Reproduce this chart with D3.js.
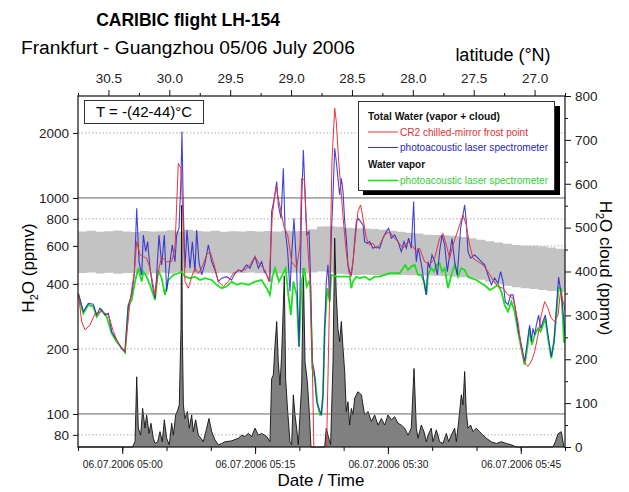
<!DOCTYPE html>
<html>
<head>
<meta charset="utf-8">
<script src="https://cdn.jsdelivr.net/npm/d3@7"></script>
<style>
body { margin: 0; background: #fff; }
text { font-family: "Liberation Sans", Arial, sans-serif; }
</style>
</head>
<body>
<svg id="chart" width="629" height="492"></svg>
<script>
// ---- data (time = minutes after 04:55 UTC) ----
var leftTicks = [80, 100, 200, 400, 600, 800, 1000, 2000];
var leftSolid = [100, 1000];
var rightTicks = [0, 100, 200, 300, 400, 500, 600, 700, 800];
var rightMinor = [50, 150, 250, 350, 450, 550, 650, 750];
var latTicks = [30.5, 30.0, 29.5, 29.0, 28.5, 28.0, 27.5, 27.0];
var latMinor = [30.75, 30.25, 29.75, 29.25, 28.75, 28.25, 27.75, 27.25, 26.75];
var timeMajor = [5, 20, 35, 50];
var timeMinor = [0, 5, 10, 15, 20, 25, 30, 35, 40, 45, 50, 55];

var cr2Total = [[0.04,362],[0.41,268],[0.79,245],[1.36,258],[1.92,292],[2.67,298],[3.43,287],[3.99,241],[4.55,212],[5.31,194],[5.87,331],[6.36,456],[6.63,628],[7.00,545],[7.38,535],[7.75,526],[8.13,473],[8.70,356],[9.07,456],[9.45,535],[10.01,507],[10.58,507],[10.95,585],[11.33,1447],[11.63,1372],[11.90,724],[12.08,410],[12.46,382],[12.84,432],[13.21,473],[13.59,448],[13.97,473],[14.53,545],[14.91,564],[15.28,507],[15.85,410],[16.41,389],[16.98,410],[17.54,448],[18.11,460],[18.86,464],[19.42,490],[19.99,535],[20.55,490],[21.12,464],[21.57,410],[21.95,834],[22.36,1128],[22.70,962],[23.00,834],[23.30,724],[23.68,674],[24.13,507],[24.69,473],[25.07,606],[25.26,1234],[25.56,1212],[25.82,724],[26.20,410],[26.46,175],[26.70,50],[27.90,50],[28.04,60],[28.42,356],[28.68,1474],[28.99,2602],[29.17,2256],[29.44,1474],[29.74,1032],[30.04,724],[30.30,564],[30.57,456],[30.79,432],[31.06,507],[31.32,651],[31.62,865],[31.92,928],[32.19,805],[32.56,651],[32.94,606],[33.31,617],[33.69,585],[34.07,606],[34.63,674],[35.20,699],[35.57,662],[36.14,628],[36.70,585],[37.27,628],[37.83,595],[38.21,564],[38.58,585],[39.15,507],[39.71,490],[40.28,526],[40.84,651],[41.22,686],[41.60,606],[41.97,526],[42.35,606],[42.73,674],[43.10,750],[43.48,834],[43.85,750],[44.23,606],[44.61,526],[45.17,507],[45.74,490],[46.30,456],[46.87,417],[47.43,389],[48.00,382],[48.56,356],[49.13,343],[49.69,268],[50.07,201],[50.44,172],[50.82,166],[51.20,175],[51.57,194],[51.95,232],[52.32,287],[52.70,331],[53.08,309],[53.45,277],[53.83,268],[54.21,287],[54.50,370],[54.80,330],[55.00,300]];

var paTotal = [[0.04,362],[0.60,298],[1.17,325],[1.73,322],[2.11,287],[2.48,309],[3.05,287],[3.43,292],[3.80,241],[4.37,220],[4.93,201],[5.31,194],[5.68,320],[6.06,356],[6.36,440],[6.63,896],[6.89,507],[7.19,440],[7.38,674],[7.64,564],[7.87,628],[8.13,473],[8.39,396],[8.70,343],[8.88,440],[9.15,674],[9.45,490],[9.75,674],[10.01,369],[10.39,507],[10.65,606],[10.95,507],[11.14,674],[11.41,724],[11.63,1234],[11.74,2029],[11.90,865],[12.08,473],[12.31,711],[12.65,473],[12.91,628],[13.21,456],[13.40,711],[13.66,507],[13.97,440],[14.34,498],[14.72,606],[15.10,507],[15.47,464],[15.85,410],[16.22,425],[16.79,432],[17.35,417],[17.73,448],[18.11,464],[18.48,456],[19.05,490],[19.42,473],[19.99,535],[20.37,473],[20.74,507],[21.04,456],[21.31,440],[21.68,410],[21.87,865],[22.17,997],[22.44,1191],[22.62,928],[22.93,805],[23.19,1372],[23.38,724],[23.68,564],[23.94,369],[24.13,545],[24.39,805],[24.69,473],[24.96,205],[25.26,962],[25.45,1668],[25.64,1070],[25.82,674],[26.09,699],[26.24,456],[26.46,175],[26.69,157],[26.95,114],[27.33,103],[27.48,99],[27.67,122],[27.86,249],[28.04,410],[28.23,490],[28.42,331],[28.61,674],[28.80,1032],[28.99,1698],[29.17,1474],[29.36,1234],[29.55,1032],[29.74,1234],[29.93,1070],[30.12,777],[30.30,651],[30.49,490],[30.68,456],[30.87,440],[31.06,507],[31.24,628],[31.43,777],[31.62,805],[31.92,777],[32.19,750],[32.37,628],[32.67,617],[32.94,628],[33.31,585],[33.69,595],[34.07,585],[34.44,651],[34.82,699],[35.08,724],[35.39,651],[35.76,674],[36.14,628],[36.51,564],[36.82,628],[37.08,585],[37.34,651],[37.64,585],[37.91,962],[38.02,674],[38.21,507],[38.40,585],[38.58,545],[38.85,473],[39.07,410],[39.34,356],[39.53,507],[39.71,473],[39.98,545],[40.28,507],[40.58,440],[40.84,564],[41.11,674],[41.41,606],[41.71,456],[41.97,545],[42.24,651],[42.54,507],[42.84,440],[43.21,724],[43.48,834],[43.67,928],[43.85,777],[44.04,564],[44.34,526],[44.80,545],[45.17,526],[45.55,507],[45.93,490],[46.30,440],[46.68,396],[47.06,425],[47.43,403],[47.73,456],[48.00,410],[48.26,331],[48.56,320],[48.86,356],[49.13,356],[49.39,309],[49.69,249],[50.07,209],[50.44,175],[50.74,216],[51.01,258],[51.20,216],[51.38,249],[51.57,232],[51.76,258],[52.02,287],[52.25,249],[52.51,268],[52.78,287],[53.08,232],[53.45,184],[53.76,216],[54.02,309],[54.28,430],[54.58,356],[54.88,268],[55.00,230]];

var paVapor = [[0.04,356],[0.60,292],[1.17,320],[1.73,314],[2.11,282],[2.67,303],[3.24,282],[3.80,236],[4.37,216],[5.31,193],[5.68,314],[6.06,337],[6.44,410],[6.81,473],[7.19,410],[7.38,456],[7.75,432],[8.13,396],[8.70,337],[9.07,464],[9.45,425],[9.82,356],[10.20,417],[10.77,440],[11.33,448],[11.71,456],[12.08,432],[12.65,425],[13.21,432],[13.78,417],[14.34,425],[15.10,417],[15.66,396],[16.22,382],[16.79,389],[17.35,410],[17.92,396],[18.48,403],[19.24,396],[19.99,410],[20.74,417],[21.31,382],[21.68,356],[21.95,432],[22.25,473],[22.70,410],[23.08,440],[23.45,473],[23.75,356],[24.05,287],[24.32,410],[24.69,356],[24.96,205],[25.26,410],[25.56,473],[25.82,389],[26.09,410],[26.24,396],[26.46,163],[26.76,146],[27.07,110],[27.33,99],[27.48,99],[27.67,122],[27.86,249],[28.16,382],[28.42,331],[28.61,440],[29.17,432],[29.93,432],[30.68,432],[30.87,382],[31.06,410],[31.43,432],[31.81,425],[32.37,432],[32.94,417],[33.50,432],[34.07,432],[34.63,440],[35.20,448],[35.76,448],[36.33,448],[36.70,473],[36.97,490],[37.27,464],[37.64,481],[38.02,490],[38.40,440],[38.77,440],[39.07,410],[39.34,356],[39.53,440],[39.90,473],[40.20,456],[40.47,490],[40.84,498],[41.11,456],[41.41,473],[41.79,382],[42.16,440],[42.54,490],[42.91,432],[43.29,473],[43.67,464],[44.04,432],[44.42,425],[44.98,417],[45.55,403],[46.11,389],[46.49,375],[46.87,382],[47.43,396],[47.81,369],[48.18,320],[48.56,298],[48.94,331],[49.31,298],[49.69,241],[50.07,201],[50.44,169],[50.74,201],[51.01,249],[51.27,209],[51.57,232],[51.95,249],[52.25,241],[52.51,258],[52.78,277],[53.08,225],[53.45,181],[53.76,216],[54.02,287],[54.28,385],[54.58,380],[54.88,216],[55.00,215]];

var cloudWater = [[0,0],[6.20,0],[6.25,5],[6.44,12],[6.63,160],[6.81,43],[7.08,27],[7.30,88],[7.57,43],[7.75,73],[8.02,31],[8.24,54],[8.51,20],[8.70,8],[9.00,12],[9.26,35],[9.52,12],[9.75,62],[10.01,20],[10.31,5],[10.58,54],[10.77,27],[11.03,73],[11.26,84],[11.44,96],[11.63,270],[11.71,551],[11.78,270],[11.90,96],[12.08,65],[12.35,81],[12.57,43],[12.84,73],[13.02,35],[13.29,62],[13.59,27],[13.89,20],[14.15,12],[14.53,43],[14.79,65],[15.10,35],[15.47,16],[15.85,5],[16.22,8],[16.60,12],[17.35,14],[18.11,20],[18.48,27],[18.86,24],[19.24,31],[19.61,24],[19.99,43],[20.37,27],[20.74,31],[21.31,24],[21.68,12],[21.87,156],[22.06,164],[22.25,232],[22.44,286],[22.62,194],[22.81,141],[23.00,210],[23.30,390],[23.45,156],[23.68,81],[23.94,12],[24.13,5],[24.32,119],[24.51,73],[24.69,43],[24.88,5],[25.07,73],[25.26,141],[25.45,407],[25.64,194],[25.90,149],[26.12,81],[26.31,0],[27.86,0],[28.04,43],[28.23,27],[28.53,5],[28.80,194],[28.99,476],[29.17,346],[29.36,270],[29.55,240],[29.74,286],[29.93,225],[30.12,172],[30.30,81],[30.49,103],[30.68,50],[30.87,88],[31.06,73],[31.24,111],[31.62,126],[32.00,119],[32.37,73],[32.75,81],[33.13,58],[33.50,73],[33.88,50],[34.26,65],[34.63,50],[35.01,73],[35.39,62],[35.76,69],[36.14,54],[36.51,50],[36.89,43],[37.27,27],[37.64,43],[37.95,179],[38.21,43],[38.40,20],[38.58,35],[38.77,50],[39.07,35],[39.34,12],[39.53,27],[39.90,43],[40.09,12],[40.47,39],[40.84,12],[41.22,8],[41.60,31],[41.86,12],[42.16,27],[42.54,43],[42.73,12],[42.99,58],[43.29,119],[43.48,96],[43.67,172],[43.85,81],[44.04,43],[44.34,50],[44.61,35],[44.98,43],[45.36,35],[45.74,27],[46.11,20],[46.68,12],[47.24,8],[47.81,12],[48.37,8],[48.94,5],[49.50,0],[53.64,0],[53.91,12],[54.21,30],[54.58,35],[54.88,0],[55,0]];

// grey band (left axis), one value per minute
var bandTimes = d3.range(0, 56);
var bandHigh = [700,705,698,702,706,700,695,704,700,702,708,700,712,703,700,705,698,702,700,704,699,703,700,706,701,704,716,737,740,735,728,724,722,718,712,705,697,690,684,676,674,672,668,660,651,640,630,622,614,606,600,600,598,590,582,572];
var bandLow = [449,452,447,450,446,449,451,440,448,450,447,452,449,446,450,448,451,447,449,452,448,450,447,449,451,448,452,457,452,446,442,440,441,440,438,441,440,439,440,438,436,434,432,429,424,418,409,400,392,386,382,379,375,371,368,360];

var base = new Date(2006, 6, 6, 4, 55, 0).getTime();
function toTime(m) { return new Date(base + m * 60000); }

var svg = d3.select("#chart");
var margin = {left: 78, top: 96};
var w = 487, h = 351;

var x = d3.scaleTime().domain([toTime(0), toTime(55)]).range([0, w]);
var xLat = d3.scaleLinear().domain([30.75, 26.75]).range([0, w]);
var yL = d3.scaleLog().domain([70.3, 2965]).range([h, 0]);
var yR = d3.scaleLinear().domain([0, 800]).range([h, 0]);

var g = svg.append("g").attr("transform", "translate(" + margin.left + "," + margin.top + ")");

svg.append("defs").append("clipPath").attr("id", "plotclip")
  .append("rect").attr("width", w).attr("height", h);

// dotted grid
g.selectAll(".grid").data(leftTicks.filter(function(d){ return leftSolid.indexOf(d) < 0; }))
  .enter().append("line")
  .attr("x1", 0).attr("x2", w)
  .attr("y1", function(d){ return yL(d); }).attr("y2", function(d){ return yL(d); })
  .attr("stroke", "#999").attr("stroke-width", 0.8).attr("stroke-dasharray", "1.5,2");

// band
var band = d3.area()
  .x(function(d, i){ return x(toTime(d)); })
  .y0(function(d, i){ return yL(bandLow[i]); })
  .y1(function(d, i){ return yL(bandHigh[i]); })
  .curve(d3.curveStepAfter);
g.append("path").datum(bandTimes).attr("d", band).attr("fill", "#c3c3c3");

// cloud water
var cloudArea = d3.area()
  .x(function(d){ return x(toTime(d[0])); })
  .y0(h)
  .y1(function(d){ return yR(d[1]); });
var cloudLine = d3.line()
  .x(function(d){ return x(toTime(d[0])); })
  .y(function(d){ return yR(d[1]); });
g.append("path").datum(cloudWater).attr("d", cloudArea).attr("fill", "#808080");
g.append("path").datum(cloudWater).attr("d", cloudLine).attr("fill", "none").attr("stroke", "#111").attr("stroke-width", 0.9);

// solid grid
g.selectAll(".solid").data(leftSolid).enter().append("line")
  .attr("x1", 0).attr("x2", w)
  .attr("y1", function(d){ return yL(d); }).attr("y2", function(d){ return yL(d); })
  .attr("stroke", "#666").attr("stroke-width", 1);

var line = d3.line()
  .x(function(d){ return x(toTime(d[0])); })
  .y(function(d){ return yL(d[1]); });
var lines = g.append("g").attr("clip-path", "url(#plotclip)");
lines.append("path").datum(paVapor).attr("d", line).attr("fill", "none").attr("stroke", "#1ee01e").attr("stroke-width", 1.8);
lines.append("path").datum(paTotal).attr("d", line).attr("fill", "none").attr("stroke", "#2222d6").attr("stroke-width", 1.1).attr("opacity", 0.85);
lines.append("path").datum(cr2Total).attr("d", line).attr("fill", "none").attr("stroke", "#e8343c").attr("stroke-width", 1);

// T box
svg.append("rect").attr("x", 84.5).attr("y", 100.5).attr("width", 119).attr("height", 23)
  .attr("fill", "#fff").attr("stroke", "#333");
svg.append("text").attr("x", 144).attr("y", 117).attr("text-anchor", "middle")
  .attr("font-size", 15).text("T = -(42-44)°C");

// legend
svg.append("rect").attr("x", 363).attr("y", 106).attr("width", 197).attr("height", 89).attr("fill", "#000");
svg.append("rect").attr("x", 358.5).attr("y", 101.5).attr("width", 196).attr("height", 89)
  .attr("fill", "#fff").attr("stroke", "#333");
var legendItems = [
  {label: "Total Water (vapor + cloud)", y: 120, bold: true, color: "#111", len: 132},
  {label: "CR2 chilled-mirror frost point", y: 135.5, color: "#e03036", line: "#e8343c", len: 128},
  {label: "photoacoustic laser spectrometer", y: 151, color: "#2424c4", line: "#3030e0", len: 148},
  {label: "Water vapor", y: 167.5, bold: true, color: "#111", len: 57},
  {label: "photoacoustic laser spectrometer", y: 184, color: "#33d033", line: "#1ee01e", len: 148}
];
legendItems.forEach(function(d){
  var tx = d.line ? 400 : 368;
  if (d.line) {
    svg.append("line").attr("x1", 368).attr("x2", 398).attr("y1", d.y - 3.5).attr("y2", d.y - 3.5)
      .attr("stroke", d.line).attr("stroke-width", d.line === "#1ee01e" ? 1.6 : 1);
  }
  svg.append("text").attr("x", tx).attr("y", d.y).attr("font-size", 11.5)
    .attr("font-weight", d.bold ? "bold" : "normal").attr("fill", d.color)
    .attr("textLength", d.len).attr("lengthAdjust", "spacingAndGlyphs").text(d.label);
});

// frame
g.append("rect").attr("x", 0).attr("y", 0).attr("width", w).attr("height", h)
  .attr("fill", "none").attr("stroke", "#111").attr("stroke-width", 1.2);

// axes
function styleAxis(sel, fs) {
  sel.select(".domain").remove();
  sel.selectAll("line").attr("stroke", "#111");
  sel.selectAll("text").attr("font-size", fs).attr("fill", "#222").attr("font-family", "'Liberation Sans', Arial, sans-serif");
}
var fmt = d3.timeFormat("%d.%m.%Y %H:%M");
g.append("g").attr("transform", "translate(0," + h + ")")
  .call(d3.axisBottom(x).tickValues(timeMinor.map(toTime)).tickSize(4).tickFormat(""))
  .call(styleAxis, 11);
g.append("g").attr("transform", "translate(0," + h + ")")
  .call(d3.axisBottom(x).tickValues(timeMajor.map(toTime)).tickSize(7).tickPadding(6).tickFormat(fmt))
  .call(styleAxis, 11.5)
  .selectAll("text").attr("textLength", 80).attr("lengthAdjust", "spacingAndGlyphs");

g.append("g")
  .call(d3.axisLeft(yL).tickValues(leftTicks).tickSize(5).tickPadding(4).tickFormat(d3.format("d")))
  .call(styleAxis, 13.5);

g.append("g").attr("transform", "translate(" + w + ",0)")
  .call(d3.axisRight(yR).tickValues(rightMinor).tickSize(3).tickFormat(""))
  .call(styleAxis, 13.5);
g.append("g").attr("transform", "translate(" + w + ",0)")
  .call(d3.axisRight(yR).tickValues(rightTicks).tickSize(6).tickPadding(4))
  .call(styleAxis, 13.5);

g.append("g")
  .call(d3.axisTop(xLat).tickValues(latMinor).tickSize(3).tickFormat(""))
  .call(styleAxis, 13.5);
g.append("g")
  .call(d3.axisTop(xLat).tickValues(latTicks).tickSize(6).tickPadding(7).tickFormat(d3.format(".1f")))
  .call(styleAxis, 13.5);

// titles
svg.append("text").attr("x", 188).attr("y", 26).attr("text-anchor", "middle")
  .attr("font-size", 17.5).attr("font-weight", "bold").text("CARIBIC flight LH-154");
svg.append("text").attr("x", 21).attr("y", 54).attr("font-size", 19.2)
  .text("Frankfurt - Guangzhou 05/06 July 2006");
svg.append("text").attr("x", 503).attr("y", 61).attr("text-anchor", "middle")
  .attr("font-size", 18).text("latitude (°N)");

svg.append("text").attr("x", 321).attr("y", 486).attr("text-anchor", "middle")
  .attr("font-size", 17).text("Date / Time");

var yl = svg.append("text").attr("transform", "translate(34,268) rotate(-90)")
  .attr("text-anchor", "middle").attr("font-size", 17);
yl.append("tspan").text("H");
yl.append("tspan").attr("font-size", 11).attr("dy", 4).text("2");
yl.append("tspan").attr("dy", -4).text("O (ppmv)");

var yr = svg.append("text").attr("transform", "translate(600,268) rotate(90)")
  .attr("text-anchor", "middle").attr("font-size", 17);
yr.append("tspan").text("H");
yr.append("tspan").attr("font-size", 11).attr("dy", 4).text("2");
yr.append("tspan").attr("dy", -4).text("O cloud (ppmv)");
</script>
</body>
</html>
